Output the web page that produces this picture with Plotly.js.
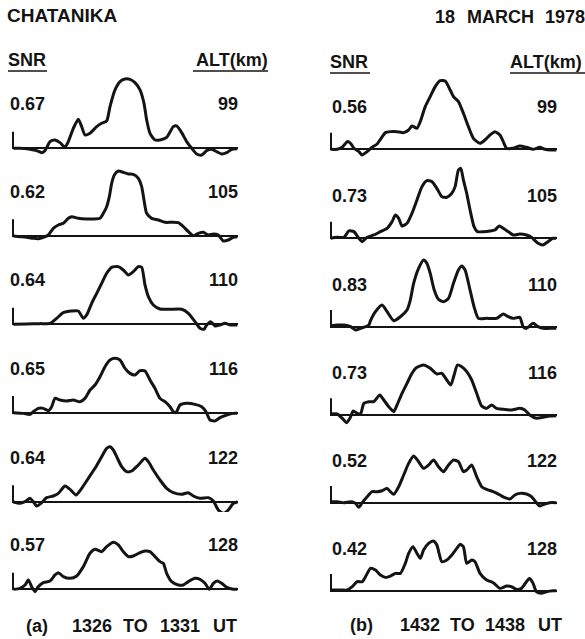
<!DOCTYPE html>
<html>
<head>
<meta charset="utf-8">
<script src="https://cdn.plot.ly/plotly-3.0.1.min.js"></script>
<style>html,body{margin:0;padding:0;background:#fff;}#chart{width:585px;height:639px;}</style>
</head>
<body>
<div id="chart"></div>
<script>
// ---------------- DATA ----------------
const altitudes = [99, 105, 110, 116, 122, 128];
const snrA = ["0.67", "0.62", "0.64", "0.65", "0.64", "0.57"];
const snrB = ["0.56", "0.73", "0.83", "0.73", "0.52", "0.42"];
const periodA = ["(a)", "1326", "TO", "1331", "UT"];
const periodB = ["(b)", "1432", "TO", "1438", "UT"];

// column (a): 1326 TO 1331 UT  (x = frequency bin, y = relative power)
const fA1 = [40,60,90,110,125,135,150,165,180,195,205,220,235,245,255,270,290,305,320,330,345,360,375,390,405,420,432,440,450,465,480,500,520,530,545,560,575,590,605,620,635,650,665,680,695,712];
const pA1 = [0,0,-3,-7,-13,-7,20,25,17,3,20,60,87,65,40,45,65,75,82,125,175,200,208,207,197,175,135,85,45,25,25,33,65,67,47,20,0,-17,-20,-7,-3,-10,-17,-13,-3,-1];
const fA2 = [40,60,80,100,115,130,145,160,175,190,205,215,235,260,280,300,310,320,328,335,343,355,370,385,400,415,425,432,440,455,475,495,515,535,550,565,580,595,610,625,640,655,670,685,700,712];
const pA2 = [0,-2,-4,-7,-8,-4,3,23,33,38,53,58,53,51,51,53,68,88,118,158,183,195,191,186,185,173,148,108,68,53,48,41,41,40,28,13,1,8,11,3,6,3,-15,-12,-4,-2];
const fA3 = [40,80,120,150,170,190,215,235,250,260,275,290,305,320,335,355,370,385,400,415,425,435,445,460,480,510,545,565,585,600,612,620,632,645,660,675,690,712];
const pA3 = [0,1,2,3,18,35,40,40,18,28,63,93,123,153,171,173,163,148,158,173,171,118,83,58,46,45,45,33,8,-12,-15,-2,8,-5,-2,3,-2,-2];
const fA4 = [40,70,90,100,115,130,145,155,165,180,200,220,240,255,270,285,300,315,330,345,360,375,390,405,420,435,450,465,480,495,510,520,528,540,560,585,605,618,630,645,660,680,700,712];
const pA4 = [0,-2,-5,3,13,13,6,18,43,38,35,38,33,43,68,83,108,138,158,163,158,133,118,113,126,125,98,73,43,33,18,3,0,23,28,25,18,3,-22,-25,-15,-7,-2,-2];
const fA5 = [40,60,75,90,100,110,125,140,160,175,195,210,228,245,265,285,305,320,330,340,350,365,380,395,415,435,445,460,480,500,520,545,565,580,600,625,640,655,670,685,700,712];
const pA5 = [0,-4,1,11,1,-12,-2,13,18,26,48,38,21,41,71,101,136,161,166,156,136,106,91,93,111,131,121,96,66,41,28,23,28,18,11,13,3,-24,-34,-24,-4,0];
const fA6 = [40,60,75,85,95,105,115,130,150,165,175,190,210,230,250,270,285,305,320,340,355,370,385,400,420,435,450,465,480,490,500,515,535,550,565,585,600,615,628,640,652,665,680,700,712];
const pA6 = [0,3,13,28,8,-7,8,20,25,43,50,38,33,40,68,108,120,113,128,141,133,113,98,100,110,115,113,98,83,78,48,23,13,13,23,33,30,18,0,18,25,18,6,0,0];

// column (b): 1432 TO 1438 UT
const fB1 = [120,140,155,170,180,190,205,215,230,245,260,270,285,300,320,340,355,365,380,390,405,420,435,450,465,480,490,505,520,535,550,570,585,600,615,630,640,650,670,690,710,730,750,765,785,800];
const pB1 = [0,0,6,23,18,3,-7,-17,-7,6,16,30,50,53,53,50,58,70,63,83,128,158,188,206,205,178,158,143,108,68,33,18,28,43,53,43,23,3,3,10,6,0,6,0,-2,-2];
const fB2 = [120,140,160,175,190,205,215,230,250,270,290,305,315,325,335,350,365,380,395,410,425,440,455,470,485,495,505,512,520,530,540,552,562,580,600,615,628,640,655,670,690,710,725,745,760,775,790,800];
const pB2 = [0,3,3,22,20,0,-10,3,10,20,30,50,70,60,37,45,75,115,155,173,170,150,125,123,135,155,205,210,175,135,85,35,20,20,22,25,37,30,20,10,13,10,3,-15,-20,-10,0,0];
const fB3 = [120,140,160,180,195,210,225,235,240,255,275,290,310,330,350,360,370,385,400,410,420,432,445,460,475,490,505,515,525,540,552,565,590,620,640,655,670,690,700,710,730,745,760,780,800];
const pB3 = [2,5,5,0,-10,-5,0,5,18,45,65,45,18,30,50,80,130,175,200,190,160,110,82,75,85,130,170,182,170,110,60,25,25,25,38,30,25,28,0,-5,10,0,-5,-5,-5];
const fB4 = [120,140,155,168,178,188,200,210,220,235,250,268,280,295,310,320,335,350,365,380,400,420,440,455,470,482,492,502,515,530,545,560,575,590,605,620,640,665,690,705,720,740,760,780,800];
const pB4 = [3,3,-10,-23,-10,12,5,3,35,40,40,60,45,25,10,30,65,95,125,143,150,140,123,125,105,90,120,150,145,130,105,65,27,20,30,20,17,15,20,15,0,-10,-7,-3,-2];
const fB5 = [120,140,160,180,195,205,215,230,245,260,275,290,300,310,325,340,355,370,385,400,415,430,445,460,475,490,505,520,530,545,560,575,590,610,630,645,660,675,690,710,725,740,750,765,780,800];
const pB5 = [3,3,0,3,-2,-14,0,18,33,33,36,43,33,25,48,83,118,140,123,103,113,128,108,93,113,128,123,93,98,113,78,48,40,33,23,15,11,23,28,26,18,0,-10,-4,0,0];
const fB6 = [120,150,170,185,200,215,225,240,255,270,285,300,315,330,345,355,368,380,390,400,415,430,440,455,470,485,500,510,520,530,545,555,570,590,610,630,650,665,680,695,710,720,730,740,755,770,790,800];
const pB6 = [2,2,2,12,27,27,42,67,62,47,40,44,52,52,82,112,132,112,97,122,142,149,137,87,92,107,127,139,132,82,92,87,52,32,24,7,14,12,4,7,27,37,22,-3,-8,-3,0,0];

// ---------------- LAYOUT ----------------
const W = 585, H = 639;
const px = v => v / W;
const py = v => 1 - v / H;
const INK = '#141414';
const FONT = {family: 'Liberation Sans, Arial, Helvetica, sans-serif', size: 18, color: INK, weight: 'bold'};
const FONT_BIG = {family: 'Liberation Sans, Arial, Helvetica, sans-serif', size: 19, color: INK, weight: 'bold'};

const panels = [
  {f: fA1, p: pA1}, {f: fA2, p: pA2}, {f: fA3, p: pA3}, {f: fA4, p: pA4}, {f: fA5, p: pA5}, {f: fA6, p: pA6},
  {f: fB1, p: pB1}, {f: fB2, p: pB2}, {f: fB3, p: pB3}, {f: fB4, p: pB4}, {f: fB5, p: pB5}, {f: fB6, p: pB6}
];
const baseA = [148.3, 236, 324.3, 412.7, 502, 589.3];
const baseB = [149.3, 238.3, 326.7, 415, 502.7, 590.7];
const colX = [[12, 238], [330, 557]];
const colRange = [[36, 714], [118, 802]];
const tickH = 50;

const traces = [];
const layout = {
  width: W, height: H,
  margin: {l: 0, r: 0, t: 0, b: 0},
  paper_bgcolor: '#ffffff', plot_bgcolor: 'rgba(0,0,0,0)',
  showlegend: false,
  annotations: [], shapes: []
};

panels.forEach((pn, i) => {
  const col = i < 6 ? 0 : 1;
  const row = i % 6;
  const B = col === 0 ? baseA[row] : baseB[row];
  const n = i + 1;
  const xa = n === 1 ? 'xaxis' : 'xaxis' + n;
  const ya = n === 1 ? 'yaxis' : 'yaxis' + n;
  const xr = n === 1 ? 'x' : 'x' + n;
  const yr = n === 1 ? 'y' : 'y' + n;
  layout[xa] = {domain: [px(colX[col][0]), px(colX[col][1])], range: colRange[col], anchor: yr,
    showgrid: false, zeroline: false, showticklabels: false, ticks: '', showline: false, fixedrange: true};
  layout[ya] = {domain: [py(B + 10), py(B - 75)], range: [-30, 225], anchor: xr,
    showgrid: false, zeroline: true, zerolinecolor: INK, zerolinewidth: 1.8,
    showticklabels: false, ticks: '', showline: false, fixedrange: true};
  traces.push({x: pn.f, y: pn.p, xaxis: xr, yaxis: yr, type: 'scatter', mode: 'lines',
    line: {color: INK, width: 3, shape: 'spline', smoothing: 0.6}, hoverinfo: 'skip'});
  // left tick
  layout.shapes.push({type: 'line', xref: xr, yref: yr, x0: colRange[col][0] + 3, x1: colRange[col][0] + 3,
    y0: 0, y1: tickH, line: {color: INK, width: 2}});
  // labels
  const snr = col === 0 ? snrA[row] : snrB[row];
  const yl = col === 0 ? B - 44 : B - 42;
  layout.annotations.push({xref: 'paper', yref: 'paper', x: px(col === 0 ? 8 : 330), y: py(yl),
    xanchor: 'left', yanchor: 'middle', text: snr, showarrow: false, font: FONT});
  layout.annotations.push({xref: 'paper', yref: 'paper', x: px(col === 0 ? 240 : 559), y: py(yl),
    xanchor: 'right', yanchor: 'middle', text: String(altitudes[row]), showarrow: false, font: FONT});
});

function txt(t, x, y, anchor, font) {
  layout.annotations.push({xref: 'paper', yref: 'paper', x: px(x), y: py(y), xanchor: anchor || 'left',
    yanchor: 'middle', text: t, showarrow: false, font: font || FONT});
}
function uline(x0, x1, y) {
  layout.shapes.push({type: 'line', xref: 'paper', yref: 'paper', x0: px(x0), x1: px(x1), y0: py(y), y1: py(y),
    line: {color: INK, width: 1.6}});
}

txt('CHATANIKA', 5, 15, 'left', FONT_BIG);
txt('18', 433, 17); txt('MARCH', 465, 17); txt('1978', 543, 17);
txt('SNR', 6, 60); uline(8, 47, 71);
txt('ALT(km)', 270, 60, 'right'); uline(193, 268, 71);
txt('SNR', 328, 62); uline(330, 370, 73);
txt('ALT(km)', 508, 62); uline(510, 585, 73);

const bxA = [24, 70, 121, 158, 211];
const bxB = [348, 398, 448, 483, 536];
periodA.forEach((t, k) => txt(t, bxA[k], 626));
periodB.forEach((t, k) => txt(t, bxB[k], 625));

Plotly.newPlot('chart', traces, layout, {staticPlot: true, displayModeBar: false});
</script>
</body>
</html>
